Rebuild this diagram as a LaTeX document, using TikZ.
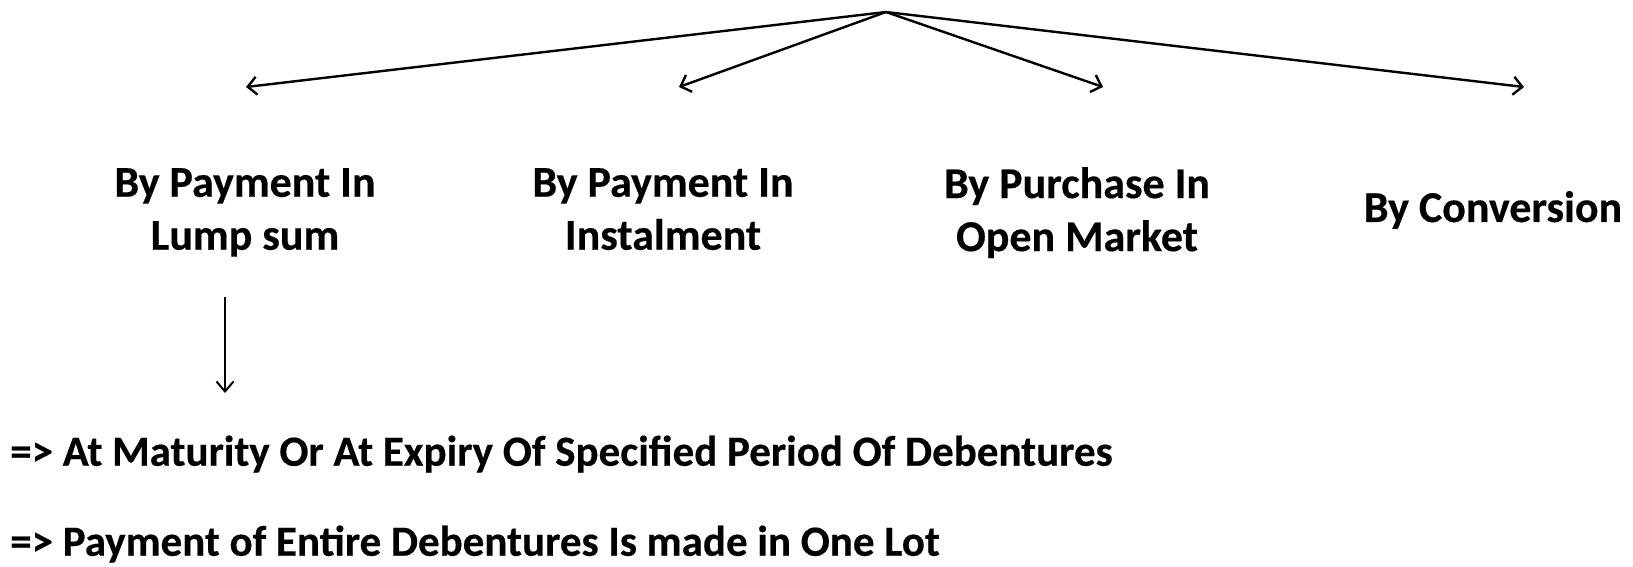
\documentclass[tikz,border=0pt]{standalone}
\usepackage{fontspec}
\setmainfont{Carlito}[BoldFeatures={FakeBold=0.4}]
\usetikzlibrary{arrows.meta}
\begin{document}
\begin{tikzpicture}[x=1pt,y=-1pt,
  conn/.style={line width=2.4pt,-{Straight Barb[length=9pt,width=18pt,line width=2.4pt]}},
  down/.style={line width=2pt,-{Straight Barb[length=10pt,width=17pt,line width=2pt]}},
  label/.style={font=\fontsize{44}{53}\selectfont\bfseries, align=center, inner sep=0pt, anchor=north},
  note/.style={font=\fontsize{43}{52}\selectfont\bfseries, anchor=west, inner sep=0pt}]
\useasboundingbox (0,0) rectangle (1633,566);

% apex and arrow tips
\coordinate (apex) at (886,12);
\coordinate (t1) at (246,87);
\coordinate (t2) at (679,87);
\coordinate (t3) at (1103,87);
\coordinate (t4) at (1524,87);

% branch labels
\node[label] (lump) at (245,168) {By Payment In\\Lump sum};
\node[label] (inst) at (663,168) {By Payment In\\Instalment};
\node[label] (open) at (1077,167) {By Purchase In\\Open Market};
\node[label, anchor=center] (conv) at (1493,210) {By Conversion};

% branches
\draw[conn] (apex) -- (t1);
\draw[conn] (apex) -- (t2);
\draw[conn] (apex) -- (t3);
\draw[conn] (apex) -- (t4);

% down arrow
\coordinate (d0) at (225,297);
\coordinate (d1) at (225,393);
\draw[down] (d0) -- (d1);

% notes
\node[note] (n1) at (10,454) {=> At Maturity Or At Expiry Of Specified Period Of Debentures};
\node[note] (n2) at (10,544) {=> Payment of Entire Debentures Is made in One Lot};
\end{tikzpicture}
\end{document}
